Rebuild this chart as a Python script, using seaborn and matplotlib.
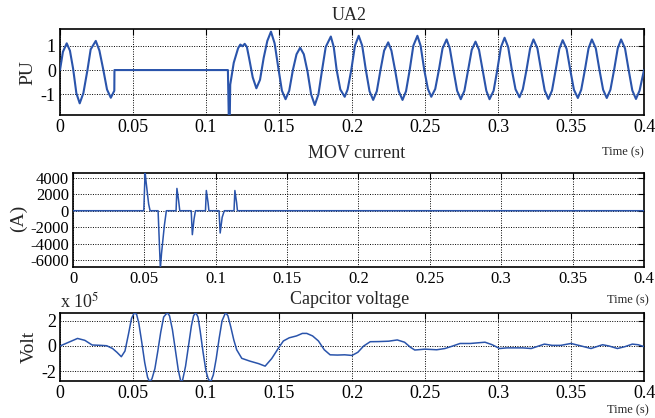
import matplotlib
matplotlib.use("Agg")
import matplotlib.pyplot as plt
import seaborn as sns
import pandas as pd

# ---------------- data ----------------
ua2_time = [0.0000, 0.0020, 0.0046, 0.0068, 0.0090, 0.0112, 0.0135, 0.0160, 0.0188,
            0.0210, 0.0245, 0.0270, 0.0297, 0.0322, 0.0348, 0.0372, 0.0373, 0.1150,
            0.1156, 0.1163, 0.1166, 0.1190, 0.1220, 0.1235, 0.1250, 0.1265, 0.1280,
            0.1295, 0.1320, 0.1345, 0.1370, 0.1395, 0.1420, 0.1445, 0.1470, 0.1495,
            0.1520, 0.1545, 0.1570, 0.1595, 0.1620, 0.1645, 0.1670, 0.1695, 0.1720,
            0.1745, 0.1770, 0.1795, 0.1820, 0.1855, 0.1875, 0.1895, 0.1920, 0.1950,
            0.1970, 0.1995, 0.2020, 0.2046, 0.2070, 0.2095, 0.2120, 0.2145, 0.2170,
            0.2195, 0.2220, 0.2248, 0.2270, 0.2295, 0.2320, 0.2346, 0.2370, 0.2395,
            0.2420, 0.2448, 0.2470, 0.2495, 0.2520, 0.2543, 0.2570, 0.2595, 0.2620,
            0.2648, 0.2670, 0.2695, 0.2720, 0.2745, 0.2770, 0.2795, 0.2820, 0.2846,
            0.2870, 0.2895, 0.2920, 0.2942, 0.2970, 0.2995, 0.3020, 0.3045, 0.3070,
            0.3095, 0.3120, 0.3147, 0.3170, 0.3195, 0.3220, 0.3243, 0.3270, 0.3295,
            0.3320, 0.3345, 0.3370, 0.3395, 0.3420, 0.3443, 0.3470, 0.3495, 0.3520,
            0.3547, 0.3570, 0.3595, 0.3620, 0.3643, 0.3670, 0.3695, 0.3720, 0.3745,
            0.3770, 0.3795, 0.3820, 0.3843, 0.3870, 0.3895, 0.3920, 0.3945, 0.3970,
            0.4000]
ua2_pu = [0.00, 0.75, 1.10, 0.80, 0.05, -0.95, -1.37, -0.95, 0.00,
          0.85, 1.20, 0.80, 0.00, -0.80, -1.14, -0.85, 0.00, 0.00,
          -1.95, -1.90, -0.60, 0.30, 0.90, 1.05, 0.98, 1.08, 0.95,
          0.50, -0.30, -0.75, -0.40, 0.50, 1.20, 1.58, 1.10, 0.10,
          -0.85, -1.20, -0.85, 0.00, 0.65, 0.92, 0.65, -0.05, -1.00,
          -1.44, -1.00, 0.00, 0.95, 1.38, 0.95, 0.00, -0.80, -1.10,
          -0.80, 0.00, 1.00, 1.41, 1.00, 0.00, -0.87, -1.23, -0.87,
          0.00, 0.80, 1.14, 0.80, 0.00, -0.87, -1.23, -0.87, 0.00,
          1.00, 1.41, 1.00, 0.00, -0.78, -1.10, -0.78, 0.00, 0.89,
          1.26, 0.89, 0.00, -0.85, -1.20, -0.85, 0.00, 0.83, 1.17,
          0.83, 0.00, -0.85, -1.20, -0.85, 0.00, 0.94, 1.33, 0.94,
          0.00, -0.79, -1.12, -0.79, 0.00, 0.89, 1.26, 0.89, 0.00,
          -0.84, -1.19, -0.84, 0.00, 0.87, 1.23, 0.87, 0.00, -0.81,
          -1.15, -0.81, 0.00, 0.89, 1.26, 0.89, 0.00, -0.81, -1.15,
          -0.81, 0.00, 0.89, 1.26, 0.89, 0.00, -0.84, -1.19, -0.84,
          0.00]

mov_time = [0.0000, 0.0496, 0.0505, 0.0512, 0.0530, 0.0540, 0.0596, 0.0612, 0.0620,
            0.0640, 0.0654, 0.0722, 0.0728, 0.0740, 0.0748, 0.0828, 0.0836, 0.0848,
            0.0858, 0.0928, 0.0934, 0.0946, 0.0952, 0.1023, 0.1031, 0.1045, 0.1060,
            0.1128, 0.1134, 0.1146, 0.1152, 0.4000]
mov_amp = [0, 0, 4700, 3500, 800, 0, 0, -7000, -5200,
           -1800, 0, 0, 2700, 1200, 0, 0, -2900, -1000,
           0, 0, 2450, 1000, 0, 0, -2700, -800, 0,
           0, 2450, 1000, 0, 0]

cap_time = [0.000, 0.006, 0.012, 0.017, 0.022, 0.028, 0.032, 0.036, 0.039, 0.042,
            0.0445, 0.047, 0.049, 0.051, 0.0525, 0.054, 0.056, 0.058, 0.060, 0.0615,
            0.063, 0.065, 0.067, 0.069, 0.071, 0.0735, 0.075, 0.077, 0.079, 0.081,
            0.0828, 0.084, 0.086, 0.088, 0.090, 0.0915, 0.093, 0.0945, 0.096, 0.098,
            0.100, 0.1015, 0.1032, 0.105, 0.107, 0.109, 0.111, 0.1134, 0.115, 0.117,
            0.119, 0.121, 0.1245, 0.130, 0.136, 0.1405, 0.145, 0.150, 0.153, 0.157,
            0.162, 0.166, 0.169, 0.173, 0.177, 0.181, 0.185, 0.190, 0.195, 0.200,
            0.204, 0.208, 0.2125, 0.218, 0.225, 0.231, 0.236, 0.240, 0.243, 0.250,
            0.258, 0.2637, 0.269, 0.274, 0.281, 0.2911, 0.296, 0.3011, 0.306, 0.3113,
            0.317, 0.3227, 0.3318, 0.337, 0.343, 0.350, 0.357, 0.3637, 0.3716, 0.376,
            0.3818, 0.387, 0.392, 0.396, 0.400]
cap_volt_1e5 = [0.00, 0.30, 0.60, 0.45, 0.08, 0.05, 0.02, -0.20, -0.50, -0.85,
                -0.40, 1.00, 2.20, 2.65, 2.50, 1.80, 0.30, -1.30, -2.50, -2.85,
                -2.60, -1.80, -0.40, 1.10, 2.30, 2.65, 2.40, 1.30, -0.30, -1.90,
                -2.85, -2.70, -1.60, 0.00, 1.60, 2.40, 2.65, 2.30, 1.20, -0.50,
                -2.00, -2.60, -2.85, -2.30, -1.00, 0.60, 2.00, 2.65, 2.40, 1.50,
                0.50, -0.30, -0.98, -1.20, -1.40, -1.60, -1.00, -0.10, 0.40, 0.65,
                0.80, 1.00, 1.00, 0.80, 0.40, -0.30, -0.70, -0.72, -0.70, -0.75,
                -0.50, 0.00, 0.34, 0.35, 0.38, 0.48, 0.30, -0.10, -0.32, -0.25,
                -0.30, -0.20, 0.00, 0.20, 0.20, 0.30, 0.10, -0.20, -0.15, -0.15,
                -0.15, -0.20, 0.15, 0.05, 0.05, 0.20, 0.00, -0.20, 0.10, 0.00,
                -0.20, -0.05, 0.15, 0.10, -0.05]

x_ticks = [0, 0.05, 0.1, 0.15, 0.2, 0.25, 0.3, 0.35, 0.4]
x_ticklabels = ["0", "0.05", "0.1", "0.15", "0.2", "0.25", "0.3", "0.35", "0.4"]
ua2_yticks = [-1, 0, 1]
mov_yticks = [-6000, -4000, -2000, 0, 2000, 4000]
cap_yticks = [-2, 0, 2]

# ---------------- style ----------------
sns.set_style("white")
plt.rcParams["font.family"] = ["Liberation Serif", "DejaVu Serif"]
plt.rcParams["mathtext.fontset"] = "stix"

W, H = 655, 418
fig = plt.figure(figsize=(W / 100, H / 100), dpi=100)
LINE = "#2a54ab"


def rect(x0, y0, x1, y1):
    return [x0 / W, 1 - y1 / H, (x1 - x0) / W, (y1 - y0) / H]


ax1 = fig.add_axes(rect(60, 29, 644, 115))
ax2 = fig.add_axes(rect(73, 173, 644, 267))
ax3 = fig.add_axes(rect(60, 313, 644, 381))

df1 = pd.DataFrame({"t": ua2_time, "v": ua2_pu})
df2 = pd.DataFrame({"t": mov_time, "v": mov_amp})
df3 = pd.DataFrame({"t": cap_time, "v": cap_volt_1e5})

sns.lineplot(data=df1, x="t", y="v", ax=ax1, color=LINE, lw=1.5,
             estimator=None, sort=False, zorder=3)
sns.lineplot(data=df2, x="t", y="v", ax=ax2, color=LINE, lw=1.1,
             estimator=None, sort=False, zorder=3)
sns.lineplot(data=df3, x="t", y="v", ax=ax3, color=LINE, lw=1.1,
             estimator=None, sort=False, zorder=3)

ax1.set_ylim(-1.85, 1.69)
ax1.set_yticks(ua2_yticks)
ax2.set_ylim(-6820, 4570)
ax2.set_yticks(mov_yticks)
ax3.set_ylim(-2.78, 2.62)
ax3.set_yticks(cap_yticks)

for ax, fs in ((ax1, 13), (ax2, 12), (ax3, 13)):
    ax.set_xlim(0, 0.4)
    ax.set_xticks(x_ticks)
    ax.set_xticklabels(x_ticklabels)
    ax.set_xlabel("")
    ax.set_ylabel("")
    ax.grid(True, color="black", linestyle=(0, (1, 1.5)), linewidth=0.7)
    ax.tick_params(direction="in", length=4, width=0.8, top=True, right=True,
                   labelsize=fs, pad=3, colors="black")
    for s in ax.spines.values():
        s.set_color("black")
        s.set_linewidth(1.2)
        s.set_visible(True)
    ax.set_axisbelow(False)

ax3.set_yticklabels(["-2", "0", "2"])
ax1.set_yticklabels(["-1", "0", "1"])
ax2.set_yticklabels(["-6000", "-4000", "-2000", "0", "2000", "4000"])


def ftext(x, y, s, **kw):
    fig.text(x / W, 1 - y / H, s, ha="center", va="center", **kw)


ftext(349, 16, "UA2", fontsize=13)
ftext(357, 153, "MOV current", fontsize=13)
ftext(350, 300, "Capcitor voltage", fontsize=13)

ftext(623, 152, "Time (s)", fontsize=9)
ftext(628, 300, "Time (s)", fontsize=9)
ftext(628, 410, "Time (s)", fontsize=9)

ftext(28, 73, "PU", fontsize=14, rotation=90)
ftext(18, 218, "(A)", fontsize=14, rotation=90)
ftext(29, 347, "Volt", fontsize=14, rotation=90)

fig.text(60 / W, 1 - 302 / H, r"x 10$^{5}$", ha="left", va="center", fontsize=13)

fig.savefig("out.png", dpi=100)
